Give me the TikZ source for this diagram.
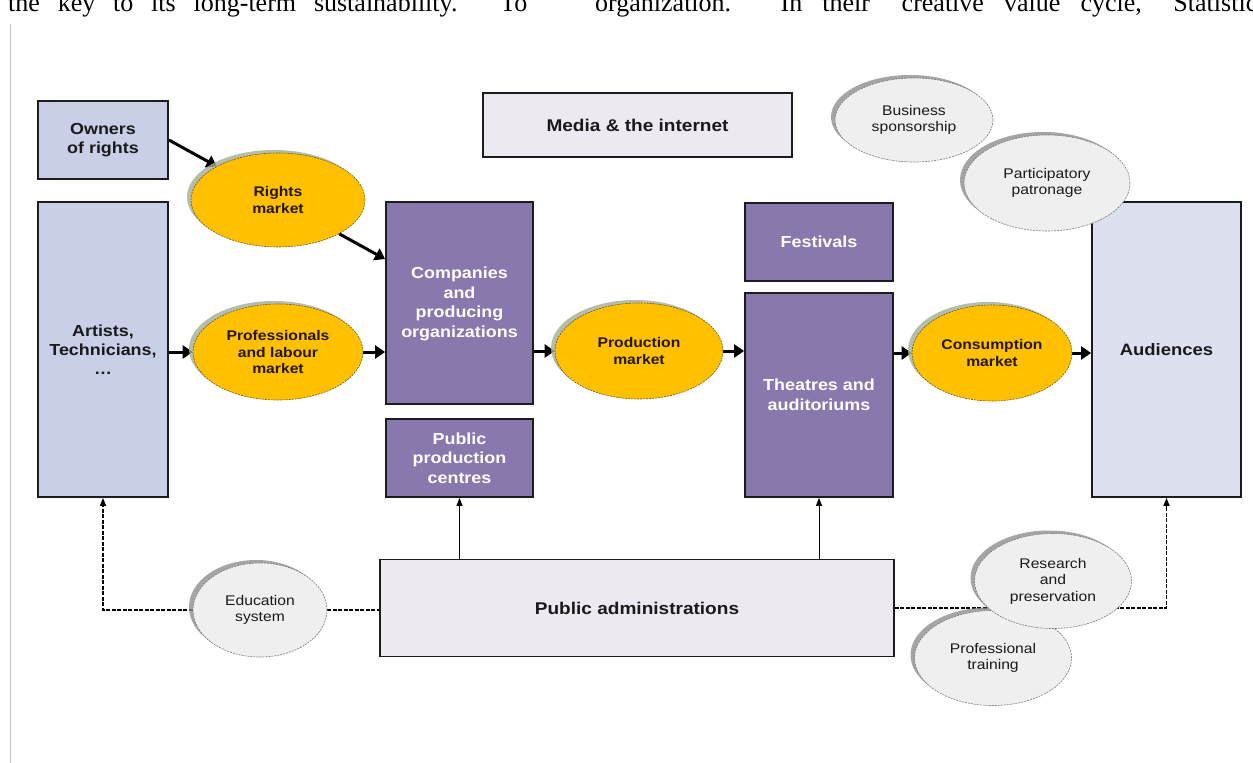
\documentclass[tikz,border=0pt]{standalone}
\usepackage{fontspec}
\setmainfont{Liberation Sans}[FakeStretch=1.12]
\newfontfamily\serifface{Liberation Serif}
\usetikzlibrary{arrows.meta,shapes.geometric,shadows,calc}
\definecolor{lightblue}{HTML}{C9CFE6}
\definecolor{paleblue}{HTML}{DDE1EF}
\definecolor{purp}{HTML}{8978AE}
\definecolor{paleviolet}{HTML}{EDE9F1}
\definecolor{goldfill}{HTML}{FFC000}
\definecolor{goldtext}{HTML}{241600}
\definecolor{goldedge}{HTML}{6E5A20}
\definecolor{goldshadow}{HTML}{A3AD97}
\definecolor{ellgray}{HTML}{EFEFEF}
\definecolor{elledge}{HTML}{7A7A7A}
\definecolor{ellshadow}{HTML}{8E8E8E}
\definecolor{boxline}{HTML}{1C1C1C}
\definecolor{txtdark}{HTML}{1A1A1A}
\definecolor{rulegray}{HTML}{C4C4C4}
\pgfdeclarelayer{bg}
\pgfsetlayers{bg,main}
\begin{document}
\begin{tikzpicture}[x=1pt,y=-1pt,
  lbox/.style={draw=boxline, line width=1.8pt, fill=lightblue, inner sep=0pt, align=center,
    text=txtdark, font=\bfseries\fontsize{16}{19}\selectfont},
  pbox/.style={draw=boxline, line width=1.8pt, fill=purp, inner sep=0pt, align=center,
    text=white, font=\bfseries\fontsize{16}{19.5}\selectfont},
  vbox/.style={draw=boxline, line width=1.8pt, fill=paleviolet, inner sep=0pt, align=center,
    text=txtdark, font=\bfseries\fontsize{17}{20}\selectfont},
  goldell/.style={ellipse, fill=goldfill, draw=goldedge, line width=0.6pt, dash pattern=on 2pt off 1pt,
    inner sep=0pt, align=center, text=goldtext, font=\bfseries\fontsize{14}{16.5}\selectfont,
    drop shadow={shadow xshift=-4pt, shadow yshift=3pt, fill=goldshadow, opacity=0.8}},
  grayell/.style={ellipse, fill=ellgray, draw=elledge, line width=0.6pt, dash pattern=on 2pt off 1pt,
    inner sep=0pt, align=center, text=txtdark, font=\fontsize{14}{16.5}\selectfont,
    drop shadow={shadow xshift=-4pt, shadow yshift=3pt, fill=ellshadow, opacity=0.8}},
  flow/.style={draw=black, line width=3pt, -{Triangle[length=10pt,width=13pt]}},
  thinarrow/.style={draw=black, line width=0.9pt, -{Triangle[length=8pt,width=6pt]}},
  dashline/.style={draw=black, line width=1.4pt, dash pattern=on 4pt off 1.5pt},
  dasharrow/.style={dashline, -{Triangle[length=8pt,width=6pt]}}
]
\useasboundingbox (0,0) rectangle (1253,763);
\clip (0,0) rectangle (1253,763);

% cut-off running text at the top
\node[anchor=base west, inner sep=0pt] (toptextL) at (8,11)
  {\serifface\fontsize{26}{30}\selectfont\makebox[519pt][s]{the key to its long-term sustainability. To}};
\node[anchor=base west, inner sep=0pt] (toptextR) at (595,11)
  {\serifface\fontsize{26}{30}\selectfont\makebox[662pt][s]{organization. In their \phantom{“}creative value cycle,\phantom{”} Statistic}};
\draw[rulegray, line width=1pt] (10,24) -- (10,763);

% boxes
\node[lbox, minimum width=130pt, minimum height=78pt] (owners) at (103,140) {Owners\\of rights};
\node[lbox, minimum width=130pt, minimum height=295pt] (artists) at (103,349.5) {Artists,\\Technicians,\\\dots};
\node[pbox, minimum width=147pt, minimum height=202pt] (companies) at (459.5,303) {\\[-6pt]Companies\\and\\producing\\organizations};
\node[pbox, minimum width=147pt, minimum height=78pt] (ppc) at (459.5,458) {Public\\production\\centres};
\node[vbox, minimum width=309pt, minimum height=64pt] (media) at (637.5,125) {Media \& the internet};
\node[pbox, minimum width=148pt, minimum height=78pt] (festivals) at (819,242) {Festivals};
\node[pbox, minimum width=148pt, minimum height=204pt] (theatres) at (819,395) {Theatres and\\auditoriums};
\node[lbox, fill=paleblue, minimum width=149pt, minimum height=295pt, font=\bfseries\fontsize{16.5}{19}\selectfont] (audiences) at (1166.5,349.5) {Audiences};
\node[vbox, fill=paleviolet, minimum width=514pt, minimum height=97pt] (pa) at (637,608) {Public administrations};

% market ellipses
\node[goldell, minimum width=174pt, minimum height=94pt] (rights) at (278,200) {Rights\\market};
\node[goldell, minimum width=170pt, minimum height=96pt] (prof) at (278,352) {Professionals\\and labour\\market};
\node[goldell, minimum width=168pt, minimum height=96pt] (production) at (639,351) {Production\\market};
\node[goldell, minimum width=160pt, minimum height=96pt] (consumption) at (992,353) {Consumption\\market};

% grey ellipses
\node[grayell, minimum width=158pt, minimum height=84pt] (business) at (914,120) {Business\\sponsorship};
\node[grayell, minimum width=166pt, minimum height=96pt] (patronage) at (1047,183) {Participatory\\patronage};
\node[grayell, minimum width=134pt, minimum height=94pt] (education) at (260,610) {Education\\system};
\node[grayell, minimum width=157pt, minimum height=95pt] (training) at (993,658) {Professional\\training};
\node[grayell, minimum width=157pt, minimum height=95pt] (research) at (1053,581) {Research\\and\\preservation};

% connectors
\begin{pgfonlayer}{bg}
\draw[flow] (owners.east) -- (rights);
\draw[flow] (rights) -- ([yshift=-58pt]companies.north west);
\draw[flow] (artists.east |- prof.west) -- (prof.west);
\draw[flow] (prof.east) -- (prof.east -| companies.west);
\draw[flow] (companies.east |- production.west) -- (production.west);
\draw[flow] (production.east) -- (production.east -| theatres.west);
\draw[flow] (theatres.east |- consumption.west) -- (consumption.west);
\draw[flow] (consumption.east) -- (consumption.east -| audiences.west);
\draw[thinarrow] (ppc.south |- pa.north) -- (ppc.south);
\draw[thinarrow] (theatres.south |- pa.north) -- (theatres.south);
\draw[dasharrow] (education.west) -| (artists.south);
\draw[dashline] (education.east) -- (education.east -| pa.west);
\draw[dasharrow] (pa.east) -| (audiences.south);
\end{pgfonlayer}
\end{tikzpicture}
\end{document}
